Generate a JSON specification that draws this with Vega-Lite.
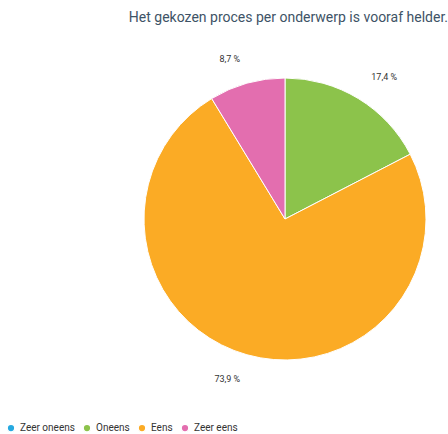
{
  "$schema": "https://vega.github.io/schema/vega-lite/v6.json",
  "width": 326,
  "height": 368,
  "autosize": {"type": "none"},
  "padding": {"left": 122, "top": 35, "right": 0, "bottom": 31},
  "title": {
    "text": "Het gekozen proces per onderwerp is vooraf helder.",
    "anchor": "end",
    "font": "Roboto",
    "fontSize": 14,
    "fontWeight": "normal",
    "color": "#3e5366",
    "offset": 10
  },
  "data": {
    "values": [
      {"antwoord": "Zeer oneens", "volgorde": 1, "percentage": 0, "label": ""},
      {"antwoord": "Oneens", "volgorde": 2, "percentage": 17.4, "label": "17,4 %"},
      {"antwoord": "Eens", "volgorde": 3, "percentage": 73.9, "label": "73,9 %"},
      {"antwoord": "Zeer eens", "volgorde": 4, "percentage": 8.7, "label": "8,7 %"}
    ]
  },
  "encoding": {
    "theta": {"field": "percentage", "type": "quantitative", "stack": true},
    "order": {"field": "volgorde", "type": "quantitative"}
  },
  "layer": [
    {
      "mark": {"type": "arc", "outerRadius": 141, "stroke": "white", "strokeWidth": 1},
      "encoding": {
        "color": {
          "field": "antwoord",
          "type": "nominal",
          "scale": {
            "domain": ["Zeer oneens", "Oneens", "Eens", "Zeer eens"],
            "range": ["#26a9e0", "#8cc34b", "#fbab25", "#e36eaf"]
          },
          "legend": {
            "title": null,
            "orient": "none",
            "direction": "horizontal",
            "legendX": -116,
            "legendY": 388,
            "symbolType": "circle",
            "symbolSize": 60,
            "labelFont": "Roboto",
            "labelFontSize": 10,
            "labelColor": "#333333",
            "columnPadding": 5,
            "symbolOffset": 0
          }
        }
      }
    },
    {
      "transform": [{"filter": "datum.percentage > 0"}],
      "mark": {
        "type": "text",
        "radius": 166,
        "font": "Roboto",
        "fontSize": 9,
        "color": "#333333",
        "align": {"expr": "(datum.percentage_start + datum.percentage_end) / 2 < 50 ? 'left' : 'right'"}
      },
      "encoding": {
        "text": {"field": "label", "type": "nominal"}
      }
    }
  ]
}
